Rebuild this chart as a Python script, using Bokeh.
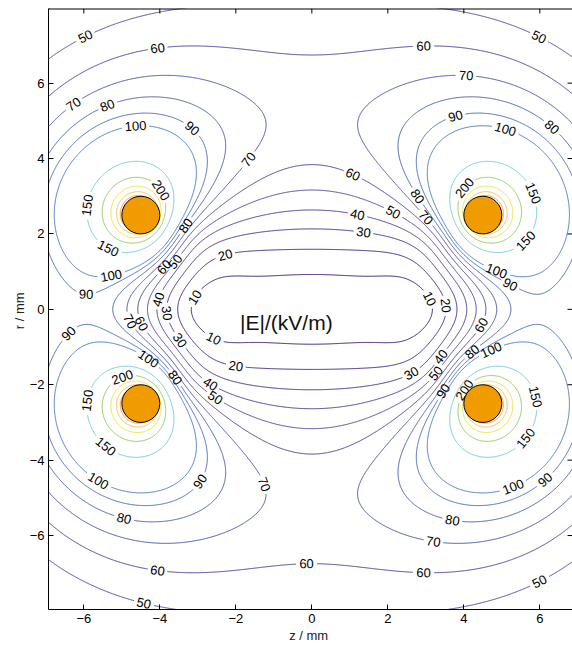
import numpy as np
import contourpy
from bokeh.plotting import figure
from bokeh.models import FixedTicker, Label, ColumnDataSource
from bokeh.embed import file_html
from bokeh.resources import INLINE
from bokeh.core.properties import value

# ---------------- data ----------------
ring_radius = 4.5            # mm  (two charged rings, cross-sections at +-4.5)
ring_heights = [2.5, -2.5]   # mm
section_radius = 0.5         # mm  (conductor cross-section)
field_scale = 2270.0         # kV/m * mm^2
levels = [10, 20, 30, 40, 50, 60, 70, 80, 90, 100, 150, 200, 250, 300, 350, 400, 450]
level_colors = ["#3a1c7c", "#42268a", "#483090", "#4e3a98", "#5646a2", "#4a44a0",
                "#4c54aa", "#4a60b4", "#4a6cbc", "#4a7cc4", "#74ccd8", "#96cc5c",
                "#eae64a", "#fac44a", "#f49a50", "#f27070", "#e63c66"]
tick_values = [-6, -4, -2, 0, 2, 4, 6]
x_label = "z /  mm"
y_label = "r /  mm"
title_text = "|E|/(kV/m)"

# approximate contour-label spots (level, z, r)
label_hints = [
    (50, -6.01, 7.32), (60, -4.06, 6.98), (70, -6.30, 5.49), (80, -5.40, 5.46),
    (100, -4.64, 4.88), (90, -3.24, 4.69), (70, -1.88, 4.14), (200, -4.06, 3.10),
    (150, -5.96, 2.76), (150, -5.35, 1.64), (80, -3.40, 2.28), (50, -3.90, 1.51),
    (60, -4.03, 1.25), (100, -5.30, 1.03), (90, -5.93, 0.61), (40, -4.19, 0.32),
    (30, -3.93, -0.11), (10, -3.14, 0.37), (70, -4.96, -0.40), (60, -4.70, -0.48),
    (90, -6.30, -0.74), (30, -3.53, -0.87), (100, -4.38, -1.43), (80, -3.77, -1.94),
    (200, -4.96, -1.88), (150, -5.96, -2.41), (20, -2.29, 1.51), (20, -2.01, -1.56),
    (10, -2.61, -0.85), (40, -2.74, -2.10), (50, -2.58, -2.41),
    (150, -5.48, -3.69), (100, -5.64, -4.59), (90, -3.06, -4.48), (70, -1.69, -4.80),
    (80, -4.96, -5.60), (60, -4.06, -6.98), (50, -4.43, -7.80),
    (60, 1.17, 3.77), (40, 1.23, 2.63), (30, 1.36, 2.12), (50, 2.20, 2.68),
    (60, -0.14, -7.11),
    (60, 2.94, 6.95), (50, 6.02, 7.32), (70, 4.07, 6.21), (90, 3.78, 5.09),
    (100, 5.10, 4.80), (80, 6.36, 4.88), (80, 2.91, 3.08), (200, 4.10, 3.16),
    (150, 5.89, 3.10), (70, 3.07, 2.49), (150, 5.62, 1.83), (100, 4.89, 1.09),
    (90, 5.28, 0.77), (10, 3.12, 0.29), (20, 3.57, 0.11), (60, 4.57, -0.48),
    (80, 4.30, -1.22), (100, 4.76, -1.17), (30, 2.65, -1.75), (40, 3.47, -1.33),
    (50, 3.33, -1.75), (90, 3.51, -2.20), (200, 4.10, -2.20), (150, 5.89, -2.33),
    (150, 5.68, -3.47), (100, 5.31, -4.72), (90, 6.15, -4.54), (80, 3.70, -5.54),
    (70, 3.20, -6.13), (60, 2.94, -6.98), (50, 6.02, -7.27),
]

# ---------------- layout ----------------
WIDTH, HEIGHT = 572, 646
BORDER_L, BORDER_T, BORDER_B = 48, 8, 37
FRAME_W, FRAME_H = WIDTH - BORDER_L, HEIGHT - BORDER_T - BORDER_B
X0, X1 = -6.93, -6.93 + FRAME_W / 38.0
Y1 = 7.98
Y0 = Y1 - FRAME_H / 37.7
SX = FRAME_W / (X1 - X0)
SY = FRAME_H / (Y1 - Y0)
FONT = "Liberation Sans"
TICK_PX = 5


# ---------------- field of two charged rings ----------------
def ellipke(m):
    a = np.ones_like(m)
    b = np.sqrt(1.0 - m)
    s = 0.5 * m
    w = 0.5
    for _ in range(25):
        c = 0.5 * (a - b)
        a, b = 0.5 * (a + b), np.sqrt(a * b)
        w *= 2.0
        s = s + w * c * c
    K = np.pi / (2.0 * a)
    return K, K * (1.0 - s)


def ring_field(x, y, a, h):
    rho = np.abs(x)
    zeta = y - h
    D1 = (a + rho) ** 2 + zeta ** 2
    D2 = (a - rho) ** 2 + zeta ** 2 + 1e-12
    m = np.clip(4 * a * rho / D1, 0.0, 1 - 1e-12)
    K, E = ellipke(m)
    sq = np.sqrt(D1)
    Ez = 2.0 / np.pi * zeta * E / (sq * D2)
    safe = np.where(rho > 1e-9, rho, 1.0)
    Er = np.where(rho > 1e-9,
                  (K - (a * a - rho * rho + zeta * zeta) / D2 * E) / (np.pi * safe * sq), 0.0)
    return Er * np.sign(x), Ez


xs = np.linspace(-7.0, 7.0, 701)
ys = np.linspace(-8.0, 8.0, 801)
XX, YY = np.meshgrid(xs, ys)
Ex = np.zeros_like(XX)
Ey = np.zeros_like(XX)
for h in ring_heights:
    ex, ey = ring_field(XX, YY, ring_radius, h)
    Ex += ex
    Ey += ey
Z = field_scale * np.hypot(Ex, Ey)

gen = contourpy.contour_generator(xs, ys, Z, line_type="Separate")
paths = {lev: [np.asarray(p) for p in gen.lines(lev) if len(p) > 1] for lev in levels}

# ---------------- contour labels ----------------
lab_x, lab_y, lab_t, lab_a = [], [], [], []
gaps = {lev: [] for lev in levels}
for lev, hx, hy in label_hints:
    best = None
    for pi, P in enumerate(paths.get(lev, [])):
        d = np.hypot((P[:, 0] - hx) * SX, (P[:, 1] - hy) * SY)
        i = int(np.argmin(d))
        if best is None or d[i] < best[0]:
            best = (d[i], pi, i)
    if best is None or best[0] > 25:
        continue
    _, pi, i = best
    P = paths[lev][pi]
    n = len(P)
    i0, i1 = max(i - 4, 0), min(i + 4, n - 1)
    dx = (P[i1, 0] - P[i0, 0]) * SX
    dy = (P[i1, 1] - P[i0, 1]) * SY
    ang = np.arctan2(dy, dx)
    if ang > np.pi / 2:
        ang -= np.pi
    elif ang <= -np.pi / 2:
        ang += np.pi
    txt = str(lev)
    lab_x.append(P[i, 0]); lab_y.append(P[i, 1]); lab_t.append(txt); lab_a.append(ang)
    gaps[lev].append((P[i, 0], P[i, 1], len(txt) * 3.7 + 2.5))

seg_x, seg_y, seg_c = [], [], []
for lev, col in zip(levels, level_colors):
    for P in paths[lev]:
        keep = np.ones(len(P), dtype=bool)
        for gx, gy, r in gaps[lev]:
            keep &= np.hypot((P[:, 0] - gx) * SX, (P[:, 1] - gy) * SY) > r
        idx = np.flatnonzero(keep)
        if len(idx) < 2:
            continue
        breaks = np.flatnonzero(np.diff(idx) > 1)
        for run in np.split(idx, breaks + 1):
            if len(run) >= 2:
                seg_x.append(P[run, 0]); seg_y.append(P[run, 1]); seg_c.append(col)

# ---------------- figure ----------------
p = figure(width=WIDTH, height=HEIGHT, x_range=(X0, X1), y_range=(Y0, Y1),
           output_backend="svg", toolbar_location=None,
           min_border_left=BORDER_L, min_border_right=0, min_border_top=BORDER_T,
           min_border_bottom=BORDER_B)
p.grid.visible = False
p.outline_line_color = None
p.background_fill_color = "white"
p.border_fill_color = "white"

p.multi_line(xs="xs", ys="ys", line_color="c", line_width=1,
             source=ColumnDataSource(dict(xs=seg_x, ys=seg_y, c=seg_c)))

p.text(x="x", y="y", text="t", angle="a",
       source=ColumnDataSource(dict(x=lab_x, y=lab_y, t=lab_t, a=lab_a)),
       text_font=value(FONT), text_font_size="13px", text_align="center",
       text_baseline="middle", text_color="black")

cx = [s * ring_radius for h in ring_heights for s in (-1, 1)]
cy = [h for h in ring_heights for s in (-1, 1)]
p.ellipse(x=cx, y=cy, width=2 * section_radius, height=2 * section_radius,
          fill_color="#f09c00", line_color="black", line_width=1)

p.add_layout(Label(x=-0.67, y=-0.34, text=title_text, text_font=FONT, text_font_size="21px",
                   text_align="center", text_baseline="middle", text_color="#111111"))

# top frame edge and inward ticks on the top and right edges
nt = len(tick_values)
p.segment(x0=[X0], y0=[Y1], x1=[X1], y1=[Y1], line_color="black", line_width=2)
p.segment(x0=tick_values, y0=[Y1] * nt, x1=tick_values, y1=[Y1 - TICK_PX / SY] * nt,
          line_color="black", line_width=1)
p.segment(x0=[X1] * nt, y0=tick_values, x1=[X1 - TICK_PX / SX] * nt, y1=tick_values,
          line_color="black", line_width=1)

for ax in (p.xaxis[0], p.yaxis[0]):
    ax.ticker = FixedTicker(ticks=tick_values)
    ax.major_tick_in = TICK_PX
    ax.major_tick_out = 0
    ax.minor_tick_line_color = None
    ax.major_label_text_font = FONT
    ax.major_label_text_font_size = "13px"
    ax.major_label_text_color = "black"
    ax.axis_label_text_font = FONT
    ax.axis_label_text_font_size = "13px"
    ax.axis_label_text_font_style = "normal"
    ax.axis_label_text_color = "#222222"
    ax.axis_line_color = "black"
    ax.major_tick_line_color = "black"
p.xaxis[0].axis_label = x_label
p.yaxis[0].axis_label = y_label
p.xaxis[0].major_label_standoff = 4
p.xaxis[0].axis_label_standoff = 2
p.yaxis[0].major_label_standoff = 4
p.yaxis[0].axis_label_standoff = 0

open("out.html", "w").write(file_html(p, INLINE))
